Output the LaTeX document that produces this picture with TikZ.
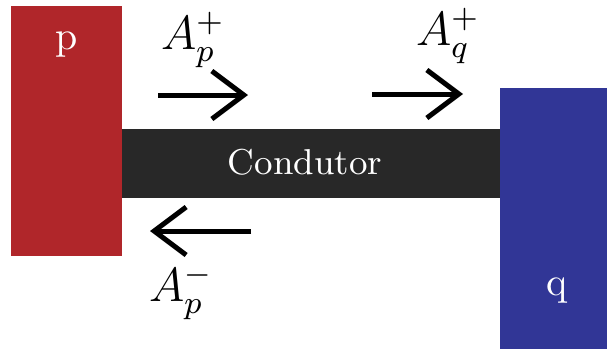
\documentclass[tikz,border=0pt]{standalone}
\usetikzlibrary{arrows.meta}
\definecolor{pred}{RGB}{176,38,42}
\definecolor{qblue}{RGB}{49,54,150}
\definecolor{wire}{RGB}{40,40,40}
\tikzset{flow/.style={line width=1.25pt,-{Straight Barb[length=8pt,width=12pt,line width=1.25pt]}}}
\tikzset{lbl/.style={inner sep=0pt,font=\fontsize{11.5}{14}\selectfont}}
\tikzset{blk/.style={inner sep=0pt,text=white,font=\fontsize{10}{12}\selectfont}}

\begin{document}
\begin{tikzpicture}[x=0.25pt,y=-0.25pt]
    \useasboundingbox (0,0) rectangle (607,354);

    % the two ends and the wire between them
    \fill[pred] (11,6) rectangle (122,256);
    \fill[qblue] (500,88) rectangle (607,349);
    \fill[wire] (122,129) rectangle (500,198);

    \node[blk] (p) at (67,45) {p};
    \node[blk] (q) at (557,291) {q};
    \node[blk,font=\fontsize{9}{12}\selectfont] (cond) at (305,162) {Condutor};

    \node[lbl] (apl) at (193,40) {$A_p^+$};
    \node[lbl] (aql) at (448,36) {$A_q^+$};
    \node[lbl] (aml) at (181,292) {$A_p^-$};

    \coordinate (a1s) at (158,95);
    \coordinate (a1e) at (248,95);
    \coordinate (a2s) at (372,94);
    \coordinate (a2e) at (463,94);
    \coordinate (a3s) at (251,231);
    \coordinate (a3e) at (150,231);

    \draw[flow] (a1s) -- (a1e);
    \draw[flow] (a2s) -- (a2e);
    \draw[flow] (a3s) -- (a3e);
\end{tikzpicture}
\end{document}
